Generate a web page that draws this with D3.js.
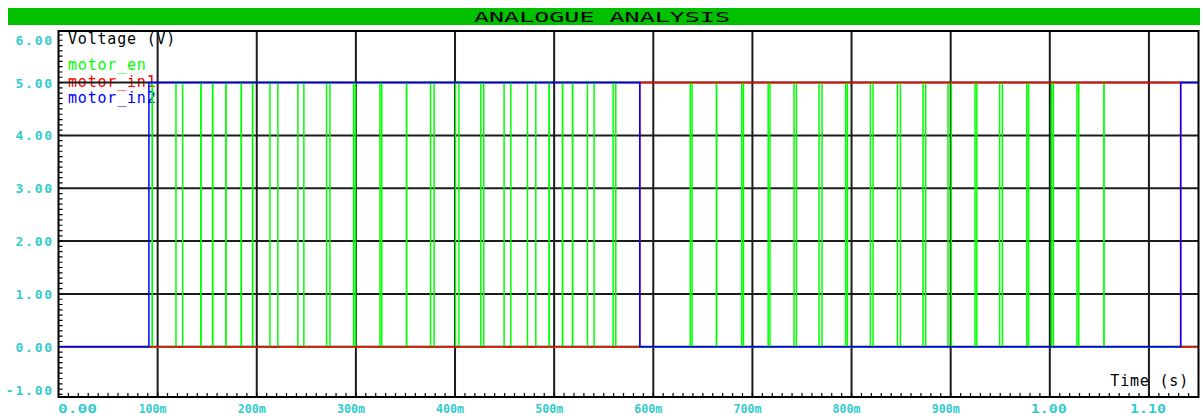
<!DOCTYPE html>
<html>
<head>
<meta charset="utf-8">
<script src="https://cdn.jsdelivr.net/npm/d3@7"></script>
<style>
  body { margin: 0; background: #fff; }
  svg text { font-family: "DejaVu Sans Mono", "Liberation Mono", monospace; }
</style>
</head>
<body>
<svg id="chart" width="1203" height="419"></svg>
<script>
// ---- data ----
const titleText = "ANALOGUE ANALYSIS";
const yAxisTitle = "Voltage (V)";
const xAxisTitle = "Time (s)";

const yTickValues = [-1, 0, 1, 2, 3, 4, 5, 6];
const yTickLabels = ["-1.00", "0.00", "1.00", "2.00", "3.00", "4.00", "5.00", "6.00"];

const xTickValuesMs = [0, 100, 200, 300, 400, 500, 600, 700, 800, 900, 1000, 1100];
const xTickLabels = ["0.00", "100m", "200m", "300m", "400m", "500m", "600m", "700m", "800m", "900m", "1.00", "1.10"];

const seriesNames = ["motor_en", "motor_in1", "motor_in2"];
const seriesColors = ["#00ff00", "#ff0000", "#0000ff"];

// motor_in1: switching times (ms) and the level held from each time on (V)
const in1Times = [0, 586.4, 1132.0, 1150];
const in1Levels = [0, 5, 0, 0];

// motor_in2: switching times (ms) and the level held from each time on (V)
const in2Times = [0, 91.2, 586.4, 1132.0, 1150];
const in2Levels = [0, 5, 0, 5, 5];

// motor_en: enable pulses, rising and falling edge times (ms)
const enRise = [94.4, 118.5, 143.6, 155.4, 168.8, 184.2, 195.7, 213.3, 241.5, 270.4,
                297.7, 324.3, 351.0, 375.3, 400.5, 426.0, 449.5, 473.1, 494.8, 508.3,
                518.4, 533.6, 559.5, 637.3, 663.6, 689.2, 715.9, 742.0, 767.2, 794.1,
                819.0, 846.3, 872.1, 897.3, 924.6, 949.4, 976.8, 1001.8, 1027.4, 1054.5];
const enFall = [94.7, 125.2, 143.9, 155.7, 169.1, 184.5, 196.0, 221.3, 247.5, 273.8,
                299.6, 326.1, 351.3, 378.9, 403.9, 429.0, 456.3, 481.5, 495.1, 508.6,
                518.7, 540.3, 562.2, 639.1, 663.9, 691.0, 717.7, 744.4, 770.2, 795.9,
                821.7, 849.3, 874.8, 900.7, 926.4, 952.2, 978.6, 1003.6, 1029.2, 1054.8];
const enLow = 0, enHigh = 5, endMs = 1150;

// ---- layout ----
const W = 1203, H = 419;
const plot = { left: 58.5, right: 1198.5, top: 31, bottom: 397 };
const labelCyan = "#33cccc";
const gridColor = "#1c1c1c";

const svg = d3.select("#chart");

const x = d3.scaleLinear().domain([0, 1150]).range([plot.left, plot.right]);
const y = d3.scaleLinear().domain([-0.95, 6]).range([plot.bottom, 29.7]);

// title bar
svg.append("rect")
  .attr("x", 8).attr("y", 8).attr("width", 1192).attr("height", 17)
  .attr("fill", "#00c000");
svg.append("text")
  .attr("x", 602).attr("y", 22)
  .attr("text-anchor", "middle")
  .attr("font-size", 14)
  .attr("textLength", 256).attr("lengthAdjust", "spacingAndGlyphs")
  .attr("fill", "#000")
  .text(titleText);

// in-plot captions and legend (sit beneath grid and traces)
svg.append("text")
  .attr("x", 68).attr("y", 44)
  .attr("font-size", 15).attr("letter-spacing", 0.8)
  .attr("fill", "#000")
  .text(yAxisTitle);

svg.selectAll("text.legend")
  .data(seriesNames)
  .join("text")
  .attr("class", "legend")
  .attr("x", 68)
  .attr("y", (d, i) => 70 + i * 16.5)
  .attr("font-size", 15).attr("letter-spacing", 0.8)
  .attr("fill", (d, i) => seriesColors[i])
  .text(d => d);

svg.append("text")
  .attr("x", 1189).attr("y", 386)
  .attr("text-anchor", "end")
  .attr("font-size", 15).attr("letter-spacing", 0.8)
  .attr("fill", "#000")
  .text(xAxisTitle);

// clip for everything drawn inside the frame
svg.append("clipPath").attr("id", "plotClip")
  .append("rect")
  .attr("x", plot.left).attr("y", plot.top)
  .attr("width", plot.right - plot.left).attr("height", plot.bottom - plot.top);

const inner = svg.append("g").attr("clip-path", "url(#plotClip)");

// grid
inner.selectAll("line.hgrid")
  .data(yTickValues.filter(v => v > -0.95 && v < 6))
  .join("line")
  .attr("class", "hgrid")
  .attr("x1", plot.left).attr("x2", plot.right)
  .attr("y1", d => y(d)).attr("y2", d => y(d))
  .attr("stroke", gridColor).attr("stroke-width", 2);

inner.selectAll("line.vgrid")
  .data(xTickValuesMs.filter(v => v > 0))
  .join("line")
  .attr("class", "vgrid")
  .attr("x1", d => x(d)).attr("x2", d => x(d))
  .attr("y1", plot.top).attr("y2", plot.bottom)
  .attr("stroke", gridColor).attr("stroke-width", 2);

// minor ticks: 0.1 V on the left edge, 10 ms on the bottom edge
const yMinor = d3.range(-10, 61).map(i => i / 10).filter(v => v > -0.95 && v < 6);
inner.selectAll("line.ytick")
  .data(yMinor)
  .join("line")
  .attr("class", "ytick")
  .attr("x1", plot.left).attr("x2", plot.left + 4)
  .attr("y1", d => y(d)).attr("y2", d => y(d))
  .attr("stroke", "#000").attr("stroke-width", 1.2);

const xMinor = d3.range(0, 116).map(i => i * 10);
inner.selectAll("line.xtick")
  .data(xMinor)
  .join("line")
  .attr("class", "xtick")
  .attr("x1", d => x(d)).attr("x2", d => x(d))
  .attr("y1", plot.bottom - 4).attr("y2", plot.bottom)
  .attr("stroke", "#000").attr("stroke-width", 1.2);

// traces
function stepPoints(times, levels) {
  const pts = [];
  for (let i = 0; i < times.length; i++) {
    if (i > 0) pts.push([times[i], levels[i - 1]]);
    pts.push([times[i], levels[i]]);
  }
  return pts;
}
function pulsePoints(rise, fall) {
  const pts = [[0, enLow]];
  rise.forEach((r, i) => {
    pts.push([r, enLow], [r, enHigh], [fall[i], enHigh], [fall[i], enLow]);
  });
  pts.push([endMs, enLow]);
  return pts;
}

const line = d3.line().x(d => x(d[0])).y(d => y(d[1]));

const traces = [
  pulsePoints(enRise, enFall),
  stepPoints(in1Times, in1Levels),
  stepPoints(in2Times, in2Levels)
];

inner.selectAll("path.trace")
  .data(traces)
  .join("path")
  .attr("class", "trace")
  .attr("d", line)
  .attr("fill", "none")
  .attr("stroke", (d, i) => seriesColors[i])
  .attr("stroke-width", 1.5);

// frame
svg.append("rect")
  .attr("x", plot.left).attr("y", plot.top)
  .attr("width", plot.right - plot.left).attr("height", plot.bottom - plot.top)
  .attr("fill", "none").attr("stroke", "#000").attr("stroke-width", 2);

// tick labels
svg.selectAll("text.ylab")
  .data(yTickValues)
  .join("text")
  .attr("class", "ylab")
  .attr("x", 54)
  .attr("y", d => Math.max(40, Math.min(390, y(d))) + 5)
  .attr("text-anchor", "end")
  .attr("font-size", 13).attr("font-weight", "bold").attr("letter-spacing", 1.8)
  .attr("fill", labelCyan)
  .text((d, i) => yTickLabels[i]);

svg.selectAll("text.xlab")
  .data(xTickValuesMs)
  .join("text")
  .attr("class", "xlab")
  .attr("x", (d, i) => i === 0 ? 77.5 : x(d) + (xTickLabels[i].endsWith("m") ? -5 : -1))
  .attr("y", 413)
  .attr("text-anchor", "middle")
  .attr("font-size", 13).attr("font-weight", "bold")
  .attr("textLength", (d, i) => xTickLabels[i].endsWith("m") ? 28 : (i === 0 ? 39 : 36))
  .attr("lengthAdjust", "spacingAndGlyphs")
  .attr("fill", labelCyan)
  .text((d, i) => xTickLabels[i]);
</script>
</body>
</html>
